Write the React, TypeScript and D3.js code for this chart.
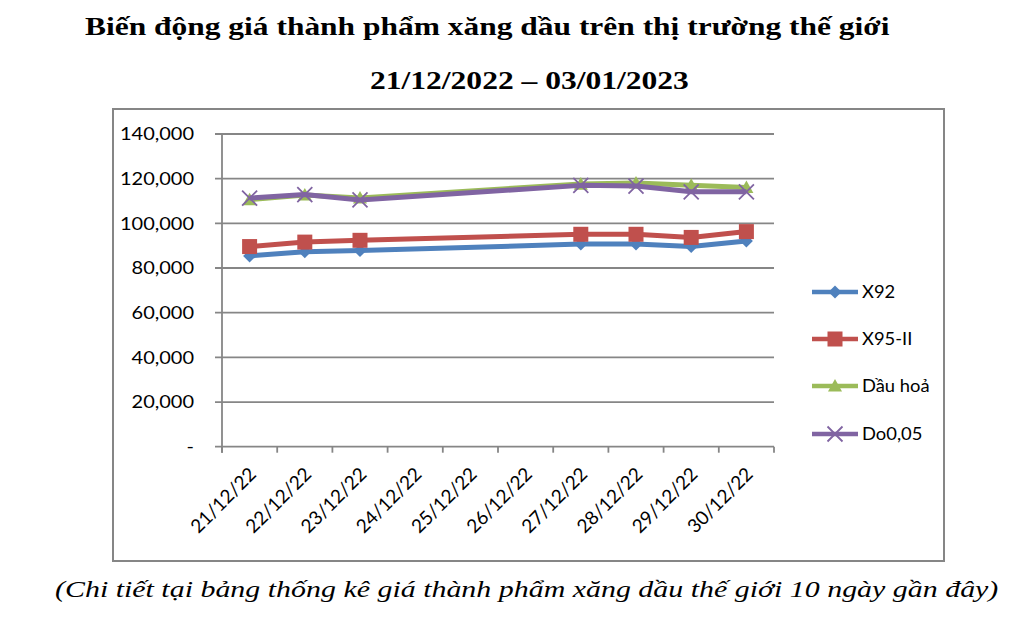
import React from "react";
import * as d3 from "d3";

const categories = ["21/12/22","22/12/22","23/12/22","24/12/22","25/12/22","26/12/22","27/12/22","28/12/22","29/12/22","30/12/22"];
const x92: (number | null)[] = [85400, 87300, 87800, null, null, null, 90700, 90700, 89600, 92100];
const x95: (number | null)[] = [89600, 91600, 92400, null, null, null, 95100, 95100, 93700, 96300];
const dauHoa: (number | null)[] = [110600, 112700, 111400, null, null, null, 117600, 118100, 117100, 116100];
const do005: (number | null)[] = [111300, 112900, 110500, null, null, null, 117000, 116700, 114100, 114100];
const yTicks = [0, 20000, 40000, 60000, 80000, 100000, 120000, 140000];
const seriesNames = ["X92", "X95-II", "Dầu hoả", "Do0,05"];
const seriesColors = ["#4F81BD", "#C0504D", "#9BBB59", "#8064A2"];
const seriesMarkers = ["diamond", "square", "triangle", "x"];
const seriesData = [x92, x95, dauHoa, do005];

const W = 1027, H = 630;
const plot = { left: 222, right: 774, top: 134, bottom: 446.7 };
const grid = "#868686";

function Marker({ type, x, y, color }: { type: string; x: number; y: number; color: string }) {
  if (type === "diamond") {
    const s = 6.5;
    return <path d={`M${x},${y - s}L${x + s},${y}L${x},${y + s}L${x - s},${y}Z`} fill={color} />;
  }
  if (type === "square") {
    const s = 7.5;
    return <rect x={x - s} y={y - s} width={2 * s} height={2 * s} fill={color} />;
  }
  if (type === "triangle") {
    const s = 7;
    return <path d={`M${x},${y - s}L${x + s},${y + s * 0.8}L${x - s},${y + s * 0.8}Z`} fill={color} />;
  }
  const s = 7.5;
  return (
    <path d={`M${x - s},${y - s}L${x + s},${y + s}M${x - s},${y + s}L${x + s},${y - s}`} stroke={color} strokeWidth={1.8} fill="none" />
  );
}

export default function App() {
  const xScale = d3.scaleBand<string>().domain(categories).range([plot.left, plot.right]);
  const yScale = d3.scaleLinear().domain([0, 140000]).range([plot.bottom, plot.top]);
  const cx = (c: string) => (xScale(c) as number) + xScale.bandwidth() / 2;
  const fmt = d3.format(",");

  const lineGen = d3
    .line<[string, number | null]>()
    .defined((d) => d[1] !== null)
    .x((d) => cx(d[0]))
    .y((d) => yScale(d[1] as number));

  const legendY = [292, 339, 386, 434];
  const sans = "Lato, 'Open Sans', sans-serif";
  const serif = "'Liberation Serif', 'Times New Roman', serif";

  return (
    <svg width={W} height={H} style={{ position: "absolute", left: 0, top: 0, background: "#fff" }}>
      <text transform="translate(85,35) scale(1.259,1)" fontFamily={serif} fontWeight="bold" fontSize={25}>
        Biến động giá thành phẩm xăng dầu trên thị trường thế giới
      </text>
      <text transform="translate(370,89) scale(1.262,1)" fontFamily={serif} fontWeight="bold" fontSize={25}>
        21/12/2022 – 03/01/2023
      </text>
      <rect x={113} y={109} width={831} height={452} fill="none" stroke={grid} strokeWidth={2} />

      {yTicks.map((t) => (
        <g key={t}>
          <line x1={plot.left - 7} x2={plot.right} y1={yScale(t)} y2={yScale(t)} stroke={grid} strokeWidth={1.8} />
          <text transform={`translate(194,${yScale(t)}) scale(1.11,1)`} dy="0.35em" textAnchor="end" fontFamily={sans} fontSize={18} fill="#000">
            {t === 0 ? "-" : fmt(t)}
          </text>
        </g>
      ))}
      <line x1={plot.left} x2={plot.left} y1={plot.top} y2={plot.bottom + 6} stroke={grid} strokeWidth={1.8} />
      {categories.map((c, i) => (
        <line key={"t" + i} x1={(xScale(c) as number)} x2={(xScale(c) as number)} y1={plot.bottom} y2={plot.bottom + 6} stroke={grid} strokeWidth={1.8} />
      ))}
      <line x1={plot.right} x2={plot.right} y1={plot.bottom} y2={plot.bottom + 6} stroke={grid} strokeWidth={1.8} />
      {categories.map((c) => (
        <text key={c} transform={`translate(${cx(c) + 3},${plot.bottom + 24}) rotate(-45)`} textAnchor="end" dy="0.35em" fontFamily={sans} fontSize={19} fill="#000">
          {c}
        </text>
      ))}

      {seriesData.map((vals, si) => {
        const pts = categories.map((c, i) => [c, vals[i]] as [string, number | null]);
        const valid = pts.filter((p) => p[1] !== null);
        return (
          <g key={si}>
            <path d={lineGen(valid) || ""} fill="none" stroke={seriesColors[si]} strokeWidth={5} strokeLinejoin="round" />
            {valid.map((p, j) => (
              <Marker key={j} type={seriesMarkers[si]} x={cx(p[0])} y={yScale(p[1] as number)} color={seriesColors[si]} />
            ))}
          </g>
        );
      })}

      {seriesNames.map((n, i) => (
        <g key={n}>
          <line x1={812} x2={858} y1={legendY[i]} y2={legendY[i]} stroke={seriesColors[i]} strokeWidth={4.5} />
          <Marker type={seriesMarkers[i]} x={835} y={legendY[i]} color={seriesColors[i]} />
          <text transform={`translate(862,${legendY[i]}) scale(1.08,1)`} dy="0.35em" fontFamily={sans} fontSize={17} fill="#000">
            {n}
          </text>
        </g>
      ))}

      <text transform="translate(55,597) scale(1.33,1)" fontFamily={serif} fontStyle="italic" fontSize={22.5}>
        (Chi tiết tại bảng thống kê giá thành phẩm xăng dầu thế giới 10 ngày gần đây)
      </text>
    </svg>
  );
}
